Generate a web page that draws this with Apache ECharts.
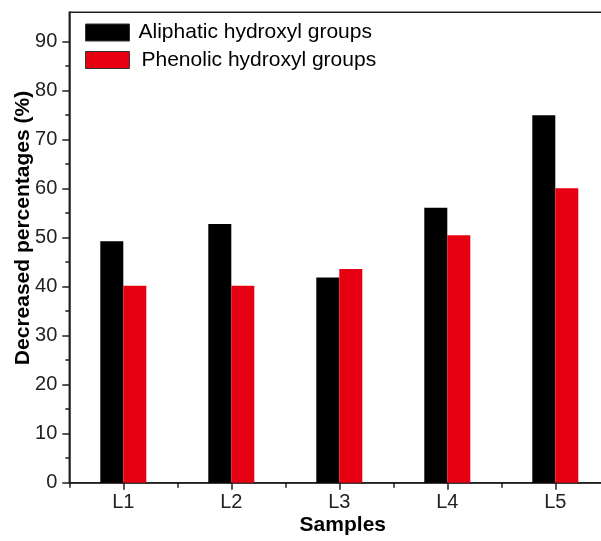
<!DOCTYPE html>
<html>
<head>
<meta charset="utf-8">
<script src="https://cdn.jsdelivr.net/npm/echarts@6/dist/echarts.min.js"></script>
<style>
html,body{margin:0;padding:0;background:#fff;overflow:hidden;width:601px;height:541px;}
#chart{width:615px;height:541px;}
</style>
</head>
<body>
<div id="chart"></div>
<script>
var categories = ['L1', 'L2', 'L3', 'L4', 'L5'];
var aliphatic = [49.3, 52.8, 41.9, 56.1, 75.0];
var phenolic = [40.2, 40.2, 43.6, 50.5, 60.1];
var seriesNames = ['Aliphatic hydroxyl groups', 'Phenolic hydroxyl groups'];
var yTicks = [0, 10, 20, 30, 40, 50, 60, 70, 80, 90];

var FONT = "'Liberation Sans', Arial, sans-serif";
var AXC = '#1f1f1f';
var chart = echarts.init(document.getElementById('chart'), null, {renderer: 'canvas'});
chart.setOption({
  backgroundColor: '#fff',
  animation: false,
  legend: {
    orient: 'vertical',
    left: 80,
    top: 17,
    itemWidth: 44,
    itemHeight: 17,
    itemGap: 6.5,
    selectedMode: false,
    itemStyle: {borderColor: '#333', borderWidth: 1},
    textStyle: {fontFamily: FONT, fontSize: 21, color: '#000', padding: [0, 0, 0, 4]},
    data: [
      {name: seriesNames[0], icon: 'rect'},
      {name: seriesNames[1], icon: 'rect', textStyle: {padding: [0, 0, 0, 7]}}
    ]
  },
  grid: [
    {left: 69.3, top: 12.3, width: 540, height: 470.4, show: true, borderColor: AXC, borderWidth: 1.5, containLabel: false},
    {left: 69.3, top: 41.7, width: 540, height: 441, show: false, containLabel: false}
  ],
  xAxis: [
    {
      gridIndex: 0, type: 'category', data: categories,
      axisLine: {show: true, lineStyle: {color: AXC, width: 1.5}},
      axisTick: {show: true, alignWithLabel: false, length: 5, lineStyle: {color: AXC, width: 1.5}},
      axisLabel: {show: false},
      splitLine: {show: false},
      name: 'Samples', nameLocation: 'middle', nameGap: 32,
      nameTextStyle: {fontFamily: FONT, fontSize: 21, fontWeight: 'bold', color: '#000', padding: [0, 0, 0, 7]}
    },
    {
      gridIndex: 1, type: 'category', data: categories,
      axisLine: {show: false},
      axisTick: {show: true, alignWithLabel: true, length: 7, lineStyle: {color: AXC, width: 1.5}},
      axisLabel: {show: true, fontFamily: FONT, fontSize: 20, color: '#222', margin: 10},
      splitLine: {show: false}
    }
  ],
  yAxis: [
    {
      gridIndex: 0, type: 'value', min: 0, max: 96,
      axisLine: {show: true, lineStyle: {color: AXC, width: 1.5}},
      axisTick: {show: false},
      axisLabel: {show: false},
      splitLine: {show: false},
      name: 'Decreased percentages (%)', nameLocation: 'middle', nameGap: 36,
      nameTextStyle: {fontFamily: FONT, fontSize: 21, fontWeight: 'bold', color: '#000', padding: [0, 0, 0, 39]}
    },
    {
      gridIndex: 1, type: 'value', min: yTicks[0], max: yTicks[yTicks.length - 1], interval: 10,
      axisLine: {show: false},
      axisTick: {show: true, length: 7, lineStyle: {color: AXC, width: 1.5}},
      minorTick: {show: true, splitNumber: 2, length: 4, lineStyle: {color: AXC, width: 1.5}},
      axisLabel: {show: true, fontFamily: FONT, fontSize: 20, color: '#222', margin: 12},
      splitLine: {show: false},
      minorSplitLine: {show: false}
    }
  ],
  series: [
    {name: seriesNames[0], type: 'bar', xAxisIndex: 0, yAxisIndex: 0, data: aliphatic,
     barWidth: 23, barGap: '0%', itemStyle: {color: '#000000'}},
    {name: seriesNames[1], type: 'bar', xAxisIndex: 0, yAxisIndex: 0, data: phenolic,
     barWidth: 23, barGap: '0%', itemStyle: {color: '#e60012'}}
  ]
});
</script>
</body>
</html>
